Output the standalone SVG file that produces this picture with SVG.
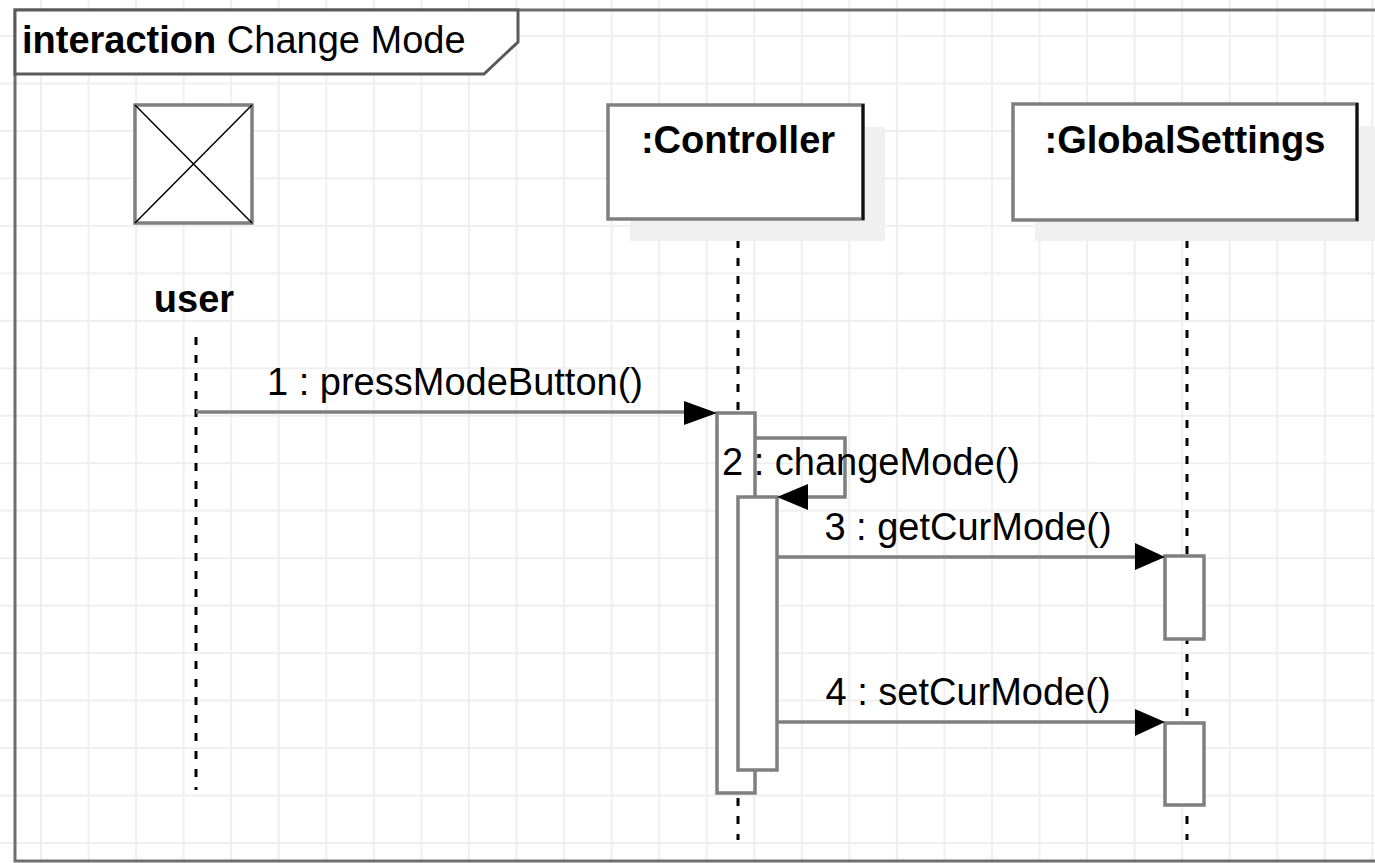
<svg xmlns="http://www.w3.org/2000/svg" width="1375" height="863" viewBox="0 0 1375 863">
<style>
.txt{font-family:"Liberation Sans",Arial,sans-serif;font-size:38px;fill:#000}
.b{font-weight:bold}
.box{fill:#fff;stroke:#7f7f7f;stroke-width:3.5}
.shadow{fill:#f0f0f0}
.act{fill:#fff;stroke:#7f7f7f;stroke-width:3.5}
.life{stroke:#000;stroke-width:3;stroke-dasharray:8 10;fill:none}
.msg{stroke:#7f7f7f;stroke-width:3.5;fill:none}
.head{fill:#000}
</style>
<defs>
<pattern id="grid" patternUnits="userSpaceOnUse" x="40" y="35" width="47.55" height="47.47">
<rect x="0" y="0" width="2" height="47.47" fill="#efefef"/>
<rect x="0" y="0" width="47.55" height="2" fill="#efefef"/>
</pattern>
</defs>
<rect width="1375" height="863" fill="#fff"/>
<rect width="1375" height="863" fill="url(#grid)"/>

<g id="frame">
<rect x="15" y="10" width="1400" height="851" fill="none" stroke="#6e6e6e" stroke-width="3"/>
<path d="M15 10 H518 V42 L484 74 H15 Z" fill="#fff" stroke="#5a5a5a" stroke-width="3"/>
<text x="22" y="53" class="txt"><tspan class="b">interaction</tspan> Change Mode</text>
</g>

<g id="lifelines">
<line x1="196" y1="337" x2="196" y2="790" class="life"/>
<line x1="738" y1="222" x2="738" y2="840" class="life"/>
<line x1="1187" y1="222" x2="1187" y2="840" class="life"/>
</g>

<g id="user">
<rect x="135" y="105" width="117" height="118" class="box"/>
<line x1="135" y1="105" x2="252" y2="223" stroke="#000" stroke-width="1.5"/>
<line x1="252" y1="105" x2="135" y2="223" stroke="#000" stroke-width="1.5"/>
<text x="194" y="312" text-anchor="middle" class="txt b">user</text>
</g>

<g id="controller">
<rect x="630" y="127" width="255" height="114" class="shadow"/>
<rect x="608" y="105" width="255" height="114" class="box"/>
<line x1="863" y1="104" x2="863" y2="220" stroke="#111" stroke-width="3"/>
<text x="738" y="153" text-anchor="middle" class="txt b">:Controller</text>
</g>

<g id="globalsettings">
<rect x="1035" y="126" width="345" height="115" class="shadow"/>
<rect x="1013" y="104" width="344" height="116" class="box"/>
<line x1="1357" y1="103" x2="1357" y2="221" stroke="#111" stroke-width="3"/>
<text x="1185" y="153" text-anchor="middle" class="txt b">:GlobalSettings</text>
</g>

<g id="activations">
<rect x="717" y="413" width="38" height="380" class="act"/>
<rect x="738" y="497" width="39" height="273" class="act"/>
<rect x="1165" y="556" width="39" height="83" class="act"/>
<rect x="1165" y="723" width="39" height="82" class="act"/>
</g>

<g id="connectors">
<line x1="196" y1="412" x2="690" y2="412" class="msg"/>
<polygon points="717,413 684,401 684,425" class="head"/>
<text x="455" y="395" text-anchor="middle" class="txt">1 : pressModeButton()</text>

<polyline points="755,438 845,438 845,497 800,497" class="msg"/>
<polygon points="777,497 808,484 808,510" class="head"/>
<text x="722" y="475" class="txt">2 : changeMode()</text>

<line x1="777" y1="557" x2="1140" y2="557" class="msg"/>
<polygon points="1165,557 1135,543 1135,570" class="head"/>
<text x="968" y="540" text-anchor="middle" class="txt">3 : getCurMode()</text>

<line x1="777" y1="722" x2="1140" y2="722" class="msg"/>
<polygon points="1165,722 1135,709 1135,736" class="head"/>
<text x="968" y="705" text-anchor="middle" class="txt">4 : setCurMode()</text>
</g>
</svg>
